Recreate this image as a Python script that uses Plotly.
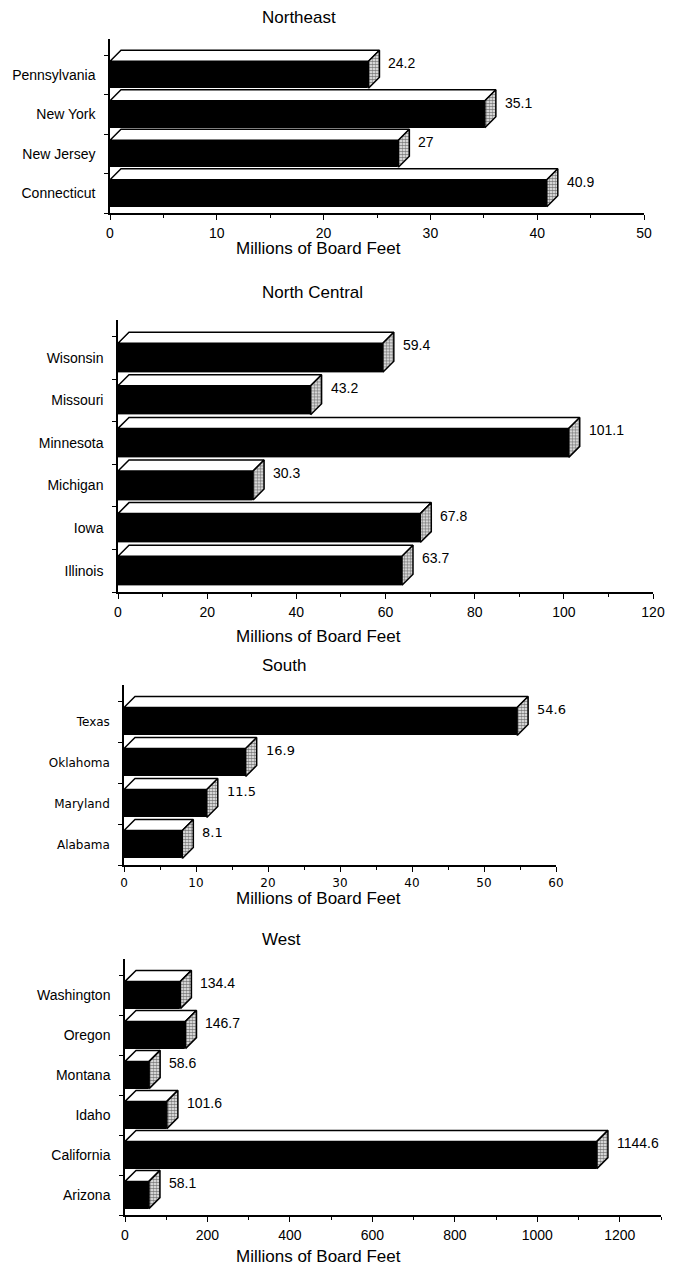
import plotly.graph_objects as go

W, H = 683, 1267

# ---- data -------------------------------------------------------------
ne_states = ["Pennsylvania", "New York", "New Jersey", "Connecticut"]
ne_values = [24.2, 35.1, 27, 40.9]
ne_ticks = [0, 10, 20, 30, 40, 50]
ne_minor = [5, 15, 25, 35, 45]

nc_states = ["Wisonsin", "Missouri", "Minnesota", "Michigan", "Iowa", "Illinois"]
nc_values = [59.4, 43.2, 101.1, 30.3, 67.8, 63.7]
nc_ticks = [0, 20, 40, 60, 80, 100, 120]
nc_minor = [10, 30, 50, 70, 90, 110]

s_states = ["Texas", "Oklahoma", "Maryland", "Alabama"]
s_values = [54.6, 16.9, 11.5, 8.1]
s_ticks = [0, 10, 20, 30, 40, 50, 60]
s_minor = [5, 15, 25, 35, 45, 55]

w_states = ["Washington", "Oregon", "Montana", "Idaho", "California", "Arizona"]
w_values = [134.4, 146.7, 58.6, 101.6, 1144.6, 58.1]
w_ticks = [0, 200, 400, 600, 800, 1000, 1200]
w_minor = [100, 300, 500, 700, 900, 1100, 1300]

axis_title = "Millions of Board Feet"

# ---- layout of the four panels (pixel geometry) -----------------------
SANS = "Liberation Sans, Arial, sans-serif"
MAC = "DejaVu Sans, sans-serif"

panels = [
    dict(title="Northeast", states=ne_states, values=ne_values, ticks=ne_ticks,
         minor=ne_minor, xmax=50, x0=110, x1=644, bottom=213, step=39.5,
         title_y=18, atitle_y=249, font=SANS, lsize=14, vsize=14, tsize=14),
    dict(title="North Central", states=nc_states, values=nc_values, ticks=nc_ticks,
         minor=nc_minor, xmax=120, x0=118, x1=653, bottom=592, step=42.6,
         title_y=292, atitle_y=636, font=SANS, lsize=14, vsize=14, tsize=14),
    dict(title="South", states=s_states, values=s_values, ticks=s_ticks,
         minor=s_minor, xmax=60, x0=124, x1=556, bottom=865, step=41,
         title_y=665, atitle_y=898, font=MAC, lsize=12, vsize=13, tsize=12),
    dict(title="West", states=w_states, values=w_values, ticks=w_ticks,
         minor=w_minor, xmax=1300, x0=125, x1=661, bottom=1215, step=40,
         title_y=940, atitle_y=1256, font=SANS, lsize=14, vsize=14, tsize=14),
]

BAR_W = 0.68      # front face height, in category units
DEPTH = 11        # 3-D offset, pixels
EXTRA = 16        # room above the first bar for its top face, pixels

fig = go.Figure()
annotations = []

for k, p in enumerate(panels, start=1):
    xa = "x" if k == 1 else f"x{k}"
    ya = "y" if k == 1 else f"y{k}"
    n = len(p["states"])
    ypos = [n - 1 - i for i in range(n)]

    ppu_x = (p["x1"] - p["x0"]) / p["xmax"]
    ppu_y = p["step"]
    ddx = DEPTH / ppu_x
    ddy = DEPTH / ppu_y

    # front faces
    fig.add_trace(go.Bar(
        x=p["values"], y=ypos, orientation="h", width=BAR_W,
        marker=dict(color="black", line=dict(color="black", width=1)),
        xaxis=xa, yaxis=ya, showlegend=False, hoverinfo="skip"))

    for v, yc in zip(p["values"], ypos):
        yt = yc + BAR_W / 2
        yb = yc - BAR_W / 2
        # top face
        fig.add_trace(go.Scatter(
            x=[0, v, v + ddx, ddx, 0], y=[yt, yt, yt + ddy, yt + ddy, yt],
            mode="lines", fill="toself", fillcolor="white",
            line=dict(color="black", width=1.5),
            xaxis=xa, yaxis=ya, showlegend=False, hoverinfo="skip"))
        # side face (stippled)
        fig.add_trace(go.Scatter(
            x=[v, v, v + ddx, v + ddx, v], y=[yb, yt, yt + ddy, yb + ddy, yb],
            mode="lines", fill="toself",
            fillpattern=dict(shape=".", fgcolor="black", bgcolor="white",
                             size=3, solidity=0.65),
            line=dict(color="black", width=1.5),
            xaxis=xa, yaxis=ya, showlegend=False, hoverinfo="skip"))
        # value label
        annotations.append(dict(
            x=v, y=yt, xref=xa, yref=ya, text=f"{v:g}", showarrow=False,
            xanchor="left", yanchor="middle", xshift=DEPTH + 7, yshift=-2,
            font=dict(family=p["font"], size=p["vsize"], color="black")))

    top_px = p["bottom"] - n * p["step"] - EXTRA
    xdom = [p["x0"] / W, p["x1"] / W]
    ydom = [1 - p["bottom"] / H, 1 - top_px / H]

    xkey = "xaxis" if k == 1 else f"xaxis{k}"
    ykey = "yaxis" if k == 1 else f"yaxis{k}"
    fig.update_layout(**{
        xkey: dict(
            domain=xdom, anchor=ya, range=[0, p["xmax"]], automargin=False,
            tickmode="array", tickvals=p["ticks"],
            ticks="outside", ticklen=5, tickwidth=1.3, tickcolor="black",
            minor=dict(tickvals=p["minor"], ticks="outside", ticklen=3,
                       tickwidth=1, tickcolor="black"),
            showline=True, linecolor="black", linewidth=1.5,
            showgrid=False, zeroline=False, fixedrange=True,
            ticklabelstandoff=1,
            tickfont=dict(family=p["font"], size=p["tsize"], color="black")),
        ykey: dict(
            domain=ydom, anchor=xa, automargin=False,
            range=[-0.5, n - 0.5 + EXTRA / p["step"]],
            tickmode="array", tickvals=ypos, ticktext=p["states"],
            ticks="", showline=True, linecolor="black", linewidth=1.5,
            minor=dict(tickvals=[y + 0.5 for y in ypos] + [-0.5],
                       ticks="outside", ticklen=4, tickwidth=1,
                       tickcolor="black"),
            showgrid=False, zeroline=False, fixedrange=True,
            ticklabelstandoff=10,
            tickfont=dict(family=p["font"], size=p["lsize"], color="black")),
    })

    # panel title and axis title
    annotations.append(dict(
        x=260 / W, y=1 - p["title_y"] / H, xref="paper", yref="paper",
        text=p["title"], showarrow=False, xanchor="left", yanchor="middle",
        font=dict(family=SANS, size=17, color="black")))
    annotations.append(dict(
        x=318 / W, y=1 - p["atitle_y"] / H, xref="paper", yref="paper",
        text=axis_title, showarrow=False, xanchor="center", yanchor="middle",
        font=dict(family=SANS, size=17, color="black")))

fig.update_layout(
    width=W, height=H, autosize=False, margin=dict(l=0, r=0, t=0, b=0, pad=0),
    paper_bgcolor="white", plot_bgcolor="white",
    bargap=0, annotations=annotations, showlegend=False)

fig.write_html("out.html", config=dict(displayModeBar=False, responsive=False))
